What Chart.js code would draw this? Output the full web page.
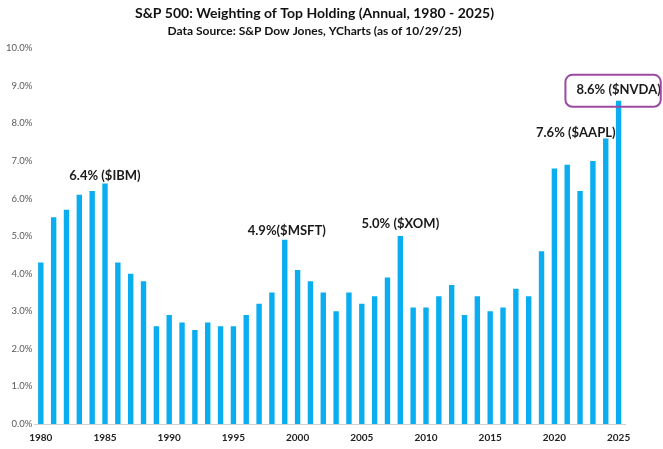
<!DOCTYPE html>
<html>
<head>
<meta charset="utf-8">
<script src="https://cdn.jsdelivr.net/npm/chart.js@4"></script>
<style>
  html, body { margin: 0; padding: 0; background: #fff; }
  #wrap { width: 663px; height: 449px; }
</style>
</head>
<body>
<div id="wrap"><canvas id="topChart"></canvas></div>
<script>
// Data
const years = [];
for (let y = 1980; y <= 2025; y++) years.push(String(y));

const weights = [
    4.3, 5.5, 5.7, 6.1, 6.2, 6.4, 4.3, 4.0, 3.8, 2.6,
    2.9, 2.7, 2.5, 2.7, 2.6, 2.6, 2.9, 3.2, 3.5, 4.9,
    4.1, 3.8, 3.5, 3.0, 3.5, 3.2, 3.4, 3.9, 5.0, 3.1,
    3.1, 3.4, 3.7, 2.9, 3.4, 3.0, 3.1, 3.6, 3.4, 4.6,
    6.8, 6.9, 6.2, 7.0, 7.6, 8.6
];

const yTicks = [0, 1, 2, 3, 4, 5, 6, 7, 8, 9, 10];

const callouts = [
    { year: '1985', text: '6.4% ($IBM)', dx: 0, dy: 8 },
    { year: '1999', text: '4.9%($MSFT)', dx: 2, dy: 9 },
    { year: '2008', text: '5.0% ($XOM)', dx: 0, dy: 12 },
    { year: '2024', text: '7.6% ($AAPL)', dx: -30, dy: 6 },
    { year: '2025', text: '8.6% ($NVDA)', dx: 0, dy: 11, boxed: true }
];

const FONT = 'Lato, "Open Sans", sans-serif';

// draws the text labels above the highlighted bars
const calloutPlugin = {
    id: 'callouts',
    afterDatasetsDraw(chart) {
        const ctx = chart.ctx;
        const meta = chart.getDatasetMeta(0);
        ctx.save();
        ctx.font = 'bold 13px ' + FONT;
        ctx.fillStyle = '#1a1a1a';
        ctx.textAlign = 'center';
        ctx.textBaseline = 'middle';
        callouts.forEach(c => {
            const i = years.indexOf(c.year);
            const bar = meta.data[i];
            const x = bar.x + c.dx;
            const y = bar.y - c.dy;
            ctx.fillText(c.text, x, y);
            if (c.boxed) {
                const w = ctx.measureText(c.text).width;
                ctx.strokeStyle = '#9b4aa3';
                ctx.lineWidth = 2;
                ctx.beginPath();
                ctx.roundRect(x - w / 2 - 11, y - 15, w + 11, 32, 7);
                ctx.stroke();
            }
        });
        ctx.restore();
    }
};

new Chart(document.getElementById('topChart').getContext('2d'), {
    type: 'bar',
    data: {
        labels: years,
        datasets: [{
            label: 'Weighting',
            data: weights,
            backgroundColor: '#0aaef0',
            barPercentage: 0.42,
            categoryPercentage: 1.0
        }]
    },
    options: {
        responsive: true,
        maintainAspectRatio: false,
        animation: false,
        layout: { padding: { left: 4, right: 38, top: 0, bottom: -3 } },
        plugins: {
            legend: { display: false },
            tooltip: { enabled: false },
            title: {
                display: true,
                text: 'S&P 500: Weighting of Top Holding (Annual, 1980 - 2025)',
                color: '#111',
                font: { family: FONT, size: 14, weight: 'bold' },
                padding: { top: 5, bottom: 0 }
            },
            subtitle: {
                display: true,
                text: 'Data Source: S&P Dow Jones, YCharts (as of 10/29/25)',
                color: '#111',
                font: { family: FONT, size: 12, weight: 'bold' },
                padding: { top: 2, bottom: 10 }
            }
        },
        scales: {
            x: {
                grid: { display: false, drawTicks: false },
                border: { display: true, color: '#d0d0d0', width: 1 },
                ticks: {
                    color: '#222',
                    font: { family: FONT, size: 10, weight: 'bold' },
                    maxRotation: 0,
                    autoSkip: false,
                    padding: 8,
                    callback: function(val, idx) {
                        const lbl = years[idx];
                        return Number(lbl) % 5 === 0 ? lbl : '';
                    }
                }
            },
            y: {
                min: 0,
                max: 10,
                grid: { display: false, drawTicks: false },
                border: { display: false },
                afterBuildTicks: axis => { axis.ticks = yTicks.map(v => ({ value: v })); },
                ticks: {
                    color: '#595959',
                    font: { family: FONT, size: 9.5 },
                    padding: 2,
                    callback: v => v.toFixed(1) + '%'
                }
            }
        }
    },
    plugins: [calloutPlugin]
});
</script>
</body>
</html>
